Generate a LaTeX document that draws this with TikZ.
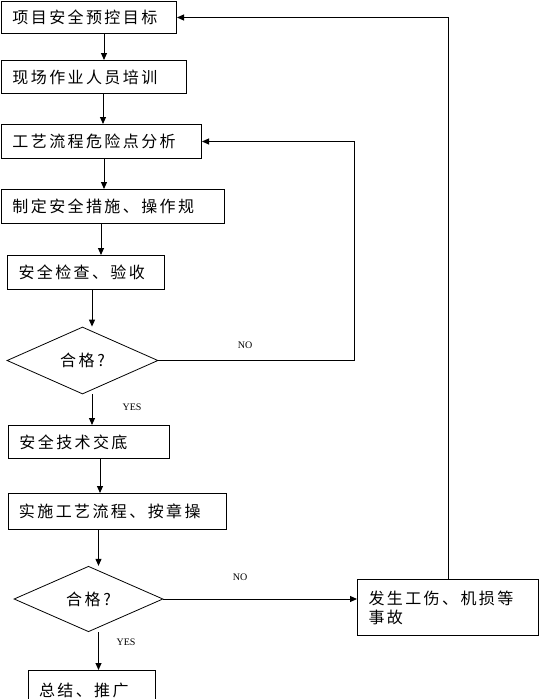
\documentclass[tikz,border=0pt]{standalone}
\usepackage{fontspec}
\setmainfont{Liberation Serif}
\newfontfamily\cjk[LetterSpace=15]{Noto Sans CJK SC}
\newfontfamily\cjkq{Noto Sans CJK SC}
\usetikzlibrary{shapes.geometric,arrows.meta}
\begin{document}
\begin{tikzpicture}[x=1pt,y=-1pt,
  box/.style={draw,line width=1pt,anchor=north west,inner xsep=11pt,inner ysep=0pt,
    align=left,font=\cjk\fontsize{16}{19}\selectfont},
  dia/.style={draw,diamond,line width=0.8pt,inner sep=0pt,font=\cjkq\fontsize{16}{19}\selectfont},
  arr/.style={line width=1pt,-{Triangle[width=6pt,length=7pt]}},
  lbl/.style={font=\fontsize{10}{11}\selectfont,inner sep=0pt}]
\useasboundingbox (0,0) rectangle (539,699);
\fill[white] (0,0) rectangle (539,699);
% boxes
\node[box,minimum width=175pt,minimum height=32pt,text width=153pt] (b1) at (1,1) {项目安全预控目标};
\node[box,minimum width=185pt,minimum height=33pt,text width=163pt] (b2) at (1,60) {现场作业人员培训};
\node[box,minimum width=200pt,minimum height=34pt,text width=178pt] (b3) at (1,124) {工艺流程危险点分析};
\node[box,minimum width=223pt,minimum height=34pt,text width=201pt] (b4) at (1,189) {制定安全措施、操作规};
\node[box,minimum width=157pt,minimum height=34pt,text width=135pt] (b5) at (7,255) {安全检查、验收};
\node[box,minimum width=161pt,minimum height=33pt,text width=139pt] (b6) at (8,425) {安全技术交底};
\node[box,minimum width=218pt,minimum height=36pt,text width=196pt] (b7) at (7.5,493) {实施工艺流程、按章操};
\node[box,minimum width=181pt,minimum height=56pt,text width=159pt] (b8) at (357,579) {发生工伤、机损等\\事故};
\node[box,minimum width=127.5pt,minimum height=40pt,text width=105.5pt] (b9) at (27.5,670) {总结、推广};
% decisions
\node[dia,minimum width=151pt,minimum height=67pt] (d1) at (82.5,360.5) {合\,格\,?};
\node[dia,minimum width=149pt,minimum height=65.5pt] (d2) at (88.5,599) {合\,格\,?};
% x positions of the vertical arrows
\coordinate (xa1) at (104,0);
\coordinate (xa2) at (103,0);
\coordinate (xa3) at (104,0);
\coordinate (xa4) at (101,0);
\coordinate (xa5) at (92,0);
\coordinate (xa6) at (100,0);
\coordinate (xa7) at (98.5,0);
\coordinate (r1) at (354,0);
\coordinate (r2) at (448,0);
% connectors
\draw[arr] (b1.south -| xa1) -- (b2.north -| xa1);
\draw[arr] (b2.south -| xa2) -- (b3.north -| xa2);
\draw[arr] (b3.south -| xa3) -- (b4.north -| xa3);
\draw[arr] (b4.south -| xa4) -- (b5.north -| xa4);
\draw[arr] (b5.south -| xa5) -- (d1.north -| xa5);
\draw[arr] (d1.south -| xa5) -- (b6.north -| xa5);
\draw[arr] (b6.south -| xa6) -- (b7.north -| xa6);
\draw[arr] (b7.south -| xa7) -- (d2.north -| xa7);
\draw[arr] (d2.south -| xa7) -- (b9.north -| xa7);
\draw[arr] (d1.east) -| (r1 |- b3.east) -- (b3.east);
\draw[arr] (d2.east) -- (b8.west |- d2.east);
\draw[arr] (b8.north -| r2) |- (b1.east);
% labels
\node[lbl] (no1) at (245,345) {NO};
\node[lbl] (yes1) at (132,407) {YES};
\node[lbl] (no2) at (240,577) {NO};
\node[lbl] (yes2) at (126,642) {YES};
\end{tikzpicture}
\end{document}
